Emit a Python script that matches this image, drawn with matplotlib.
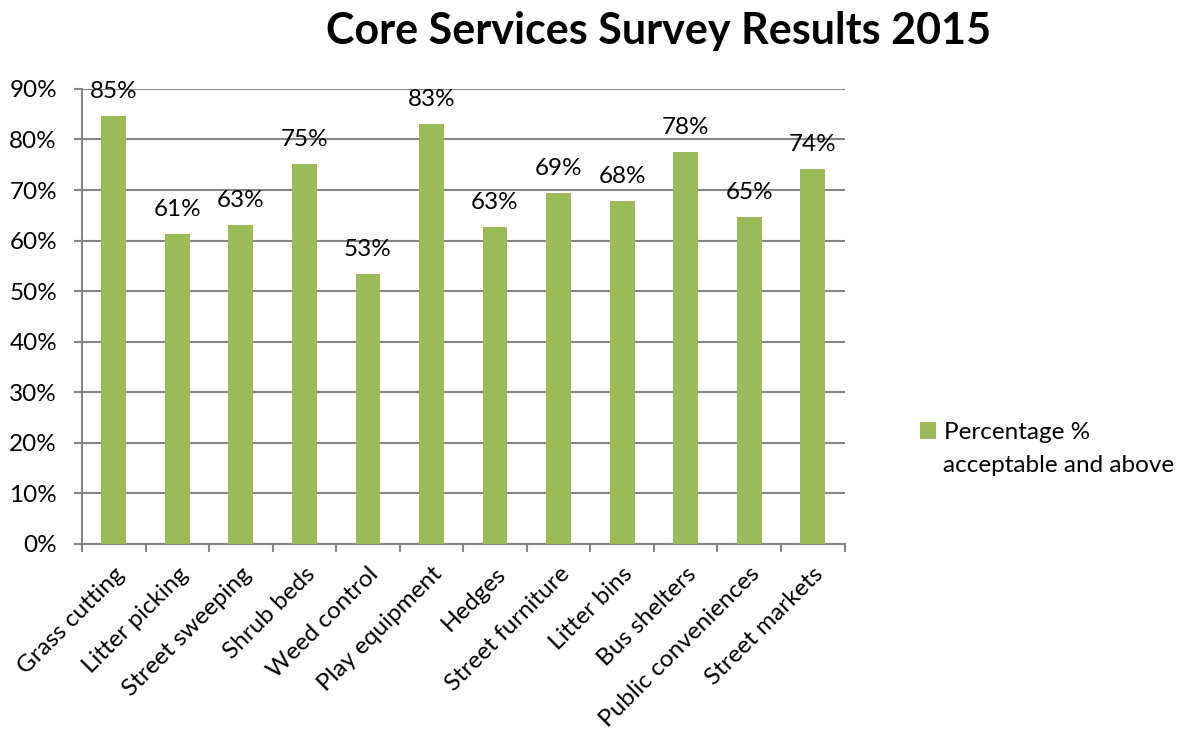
import matplotlib
matplotlib.use("Agg")
import matplotlib.pyplot as plt
import numpy as np

plt.rcParams['font.family'] = ['Lato', 'DejaVu Sans']

# Survey data
services = ["Grass cutting", "Litter picking", "Street sweeping", "Shrub beds",
            "Weed control", "Play equipment", "Hedges", "Street furniture",
            "Litter bins", "Bus shelters", "Public conveniences", "Street markets"]
pct_values = [84.6, 61.3, 63.1, 75.2, 53.4, 83.1, 62.7, 69.4, 67.8, 77.6, 64.7, 74.2]
y_ticks = [0, 10, 20, 30, 40, 50, 60, 70, 80, 90]

bar_color = '#9BBB59'
grid_color = '#868686'
fsize = 17.5

fig = plt.figure(figsize=(11.83, 7.29), dpi=100)
ax = fig.add_axes([0.0693, 0.2538, 0.6446, 0.6242])

x = np.arange(len(services))
bars = ax.bar(x, pct_values, width=0.39, color=bar_color, zorder=3)

for xi, v in zip(x, pct_values):
    ax.annotate(f"{round(v):.0f}%", (xi, v), xytext=(0, 10), textcoords='offset points',
                ha='center', va='bottom', fontsize=fsize)

ax.set_xlim(-0.5, len(services) - 0.5)
ax.set_ylim(0, 90)
ax.set_yticks(y_ticks)
ax.set_yticklabels([f"{t}%" for t in y_ticks], fontsize=fsize)
ax.yaxis.grid(True, color=grid_color, linewidth=1.5, zorder=0)
ax.tick_params(axis='y', length=6, width=1.5, color=grid_color, pad=12)

# category boundary ticks on x axis
ax.set_xticks(np.arange(-0.5, len(services)), minor=False)
ax.set_xticklabels([])
ax.set_xticks(x, minor=True)
ax.set_xticklabels(services, minor=True, rotation=45, ha='right',
                   rotation_mode='anchor', fontsize=fsize)
ax.tick_params(axis='x', which='major', length=6, width=1.5, color=grid_color)
ax.tick_params(axis='x', which='minor', length=0, pad=14)

for side in ['top', 'right']:
    ax.spines[side].set_visible(False)
for side in ['left', 'bottom']:
    ax.spines[side].set_color(grid_color)
    ax.spines[side].set_linewidth(1.5)

fig.text(0.557, 0.958, "Core Services Survey Results 2015", ha='center', va='center',
         fontsize=31, fontweight='bold')

leg = fig.legend(handles=[bars], labels=["Percentage %"], loc='upper left',
                 bbox_to_anchor=(0.7777, 0.421), frameon=False, fontsize=fsize,
                 handlelength=0.65, handleheight=0.65, handletextpad=0.35,
                 borderpad=0, borderaxespad=0)
fig.text(0.797, 0.362, "acceptable and above", ha='left', va='center', fontsize=fsize)

fig.savefig("out.png", dpi=100)
